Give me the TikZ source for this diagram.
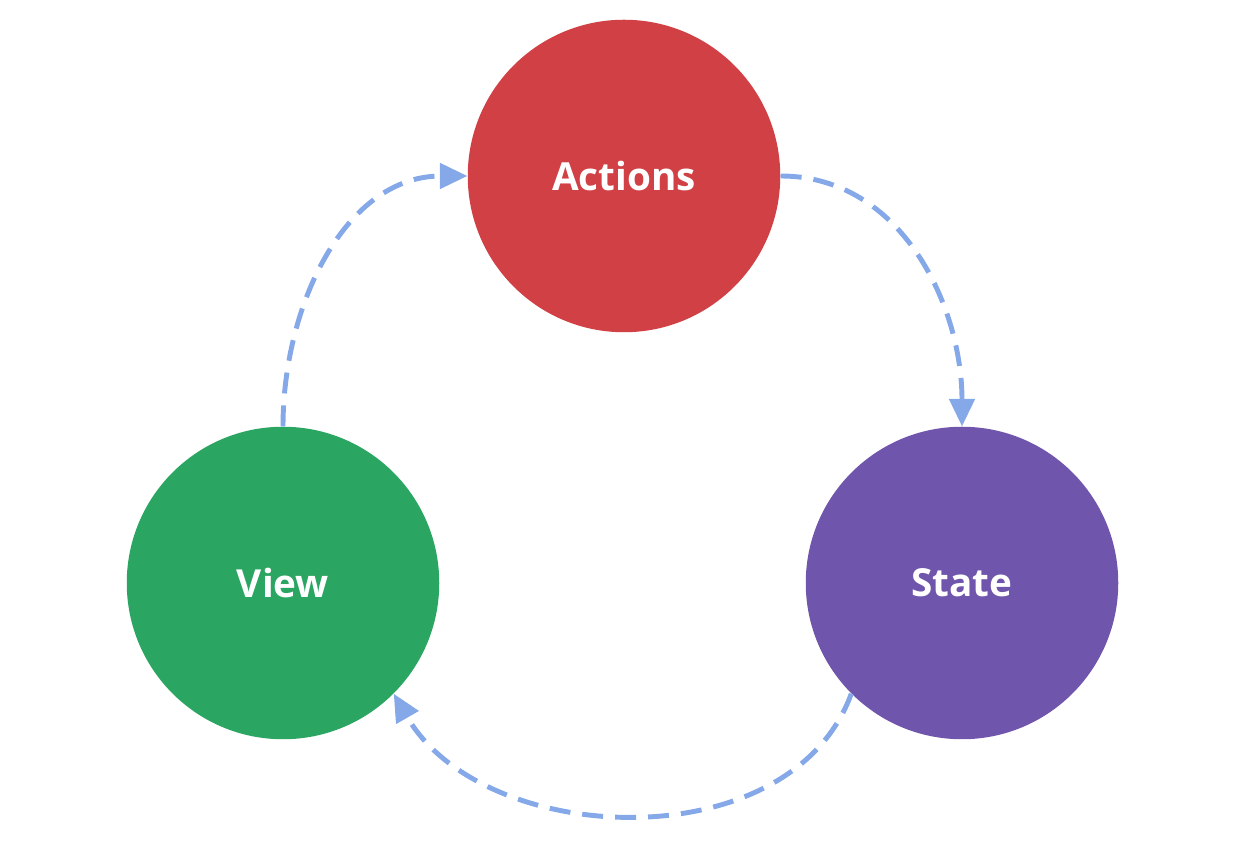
\documentclass[tikz,border=0pt]{standalone}
\usepackage{fontspec}
\setmainfont{Open Sans}
\usetikzlibrary{arrows.meta}
\definecolor{actred}{HTML}{D04045}
\definecolor{viewgreen}{HTML}{2BA562}
\definecolor{statepurple}{HTML}{6F55AB}
\definecolor{flowblue}{HTML}{85A8E8}
\begin{document}
\begin{tikzpicture}[stage/.style = {circle, minimum size = 6.25cm, inner sep = 0pt,
    text = white, font = \fontsize{22}{26}\selectfont\bfseries},
  flow/.style = {draw = flowblue, line width = 2.8pt, dash pattern = on 0.42cm off 0.24cm,
    -{Triangle[length = 0.55cm, width = 0.5cm]}}]

  \useasboundingbox (0,0) rectangle (24.8,16.92);

  \node[stage, fill = actred] (actions) at (12.48,13.4) {Actions};
  \node[stage, fill = viewgreen] (view) at (5.66,5.26) {View};
  \node[stage, fill = statepurple] (state) at (19.24,5.26) {State};

  \draw[flow] (view.north) to[out = 90, in = 180] (actions.west);
  \draw[flow] (actions.east) to[out = 0, in = 90] (state.north);
  \draw[flow] (state.-135) to[out = -110, in = -60] (view.-45);
\end{tikzpicture}
\end{document}
